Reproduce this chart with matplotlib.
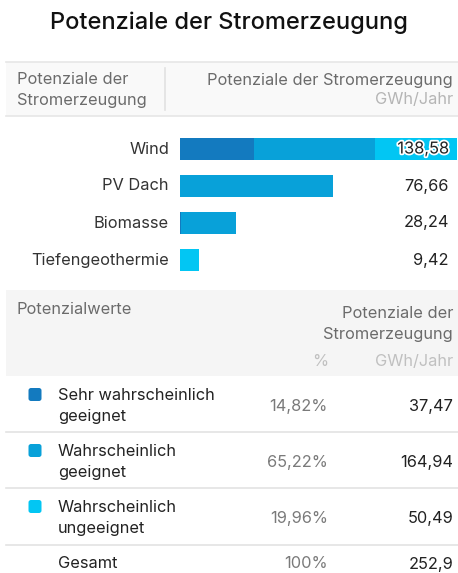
import matplotlib.pyplot as plt
import matplotlib.patheffects as pe
from matplotlib.patches import Rectangle, FancyBboxPatch

# sources of generation and their split into suitability classes (GWh/Jahr)
sources = ["Wind", "PV Dach", "Biomasse", "Tiefengeothermie"]
sehr_geeignet = [36.90, 0.0, 0.57, 0.0]
geeignet = [60.61, 76.66, 27.67, 0.0]
ungeeignet = [41.07, 0.0, 0.0, 9.42]
totals = [138.58, 76.66, 28.24, 9.42]

classes = [("Sehr wahrscheinlich", "geeignet"),
           ("Wahrscheinlich", "geeignet"),
           ("Wahrscheinlich", "ungeeignet")]
class_pct = ["14,82%", "65,22%", "19,96%"]
class_values = [37.47, 164.94, 50.49]
total_pct = "100%"
total_value = 252.9

COLORS = ["#137abf", "#08a1d9", "#02c6f3"]
FONT = "Inter"
FS = 11.8
W, H = 458, 573


def fmt(v):
    s = f"{v:.2f}".rstrip("0").rstrip(".")
    return s.replace(".", ",")


plt.rcParams["font.family"] = [FONT, "DejaVu Sans"]
fig = plt.figure(figsize=(W / 100, H / 100), dpi=100)

# background axes in pixel coordinates for the table parts
bg = fig.add_axes([0, 0, 1, 1])
bg.set_xlim(0, W)
bg.set_ylim(H, 0)
bg.axis("off")
bg.set_zorder(2)

bg.text(W / 2, 23, "Potenziale der Stromerzeugung", ha="center", va="center",
        fontsize=17, fontweight="medium", color="#111111")

# header of the bar table
bg.add_patch(Rectangle((6, 62), W - 6, 54, color="#f9f9f9", lw=0))
bg.plot([6, W], [62, 62], color="#e6e6e6", lw=1.2)
bg.plot([6, W], [116, 116], color="#e6e6e6", lw=1.2)
bg.plot([165, 165], [68, 110], color="#e2e2e2", lw=1.2)
bg.text(17, 80, "Potenziale der", ha="left", va="center", fontsize=FS, color="#6b6b6b")
bg.text(17, 100, "Stromerzeugung", ha="left", va="center", fontsize=FS, color="#6b6b6b")
bg.text(453, 80, "Potenziale der Stromerzeugung", ha="right", va="center",
        fontsize=FS, color="#6b6b6b")
bg.text(453, 100, "GWh/Jahr", ha="right", va="center", fontsize=FS, color="#b5b5b5")

# stacked horizontal bars
ax = fig.add_axes([180 / W, 1 - 280 / H, 278 / W, 150 / H])
ax.set_zorder(1)
ypos = list(range(len(sources)))
left = [0.0] * len(sources)
for vals, c in zip([sehr_geeignet, geeignet, ungeeignet], COLORS):
    ax.barh(ypos, vals, left=left, height=0.57, color=c, edgecolor="none")
    left = [a + b for a, b in zip(left, vals)]
ax.set_xlim(0, 139)
ax.set_ylim(3 + 20 / 37, -19 / 37)
ax.axis("off")

for i, name in enumerate(sources):
    y = 130 + 19 + 37 * i
    bg.text(169, y, name, ha="right", va="center", fontsize=FS, color="#333333")
    t = bg.text(449, y, fmt(totals[i]), ha="right", va="center", fontsize=FS,
                color="#222222", zorder=5)
    if i == 0:
        t.set_path_effects([pe.withStroke(linewidth=2.5, foreground="white")])

# header of the class table
bg.add_patch(Rectangle((6, 290), W - 6, 86, color="#f5f5f5", lw=0))
bg.text(17, 310, "Potenzialwerte", ha="left", va="center", fontsize=FS, color="#6b6b6b")
bg.text(453, 313, "Potenziale der", ha="right", va="center", fontsize=FS, color="#6b6b6b")
bg.text(453, 334, "Stromerzeugung", ha="right", va="center", fontsize=FS, color="#6b6b6b")
bg.text(328, 361, "%", ha="right", va="center", fontsize=FS, color="#c0c0c0")
bg.text(453, 361, "GWh/Jahr", ha="right", va="center", fontsize=FS, color="#c0c0c0")

row_tops = [376, 432, 488]
row_h = [56, 56, 57]
for i, (l1, l2) in enumerate(classes):
    top = row_tops[i]
    yc = top + 31
    bg.add_patch(FancyBboxPatch((28.5, yc - 19), 13, 13,
                                boxstyle="round,pad=0,rounding_size=2.5",
                                color=COLORS[i], lw=0))
    bg.text(58, yc - 11, l1, ha="left", va="center", fontsize=FS, color="#222222")
    bg.text(58, yc + 10, l2, ha="left", va="center", fontsize=FS, color="#222222")
    bg.text(328, yc, class_pct[i], ha="right", va="center", fontsize=FS, color="#7a7a7a")
    bg.text(453, yc, fmt(class_values[i]), ha="right", va="center", fontsize=FS,
            color="#222222")
    bg.plot([6, W], [top + row_h[i], top + row_h[i]], color="#e3e3e3", lw=1.2)

bg.text(58, 564, "Gesamt", ha="left", va="center", fontsize=FS, color="#222222")
bg.text(328, 564, total_pct, ha="right", va="center", fontsize=FS, color="#7a7a7a")
bg.text(453, 564, fmt(total_value), ha="right", va="center", fontsize=FS, color="#222222")

fig.savefig("out.png", dpi=100)
